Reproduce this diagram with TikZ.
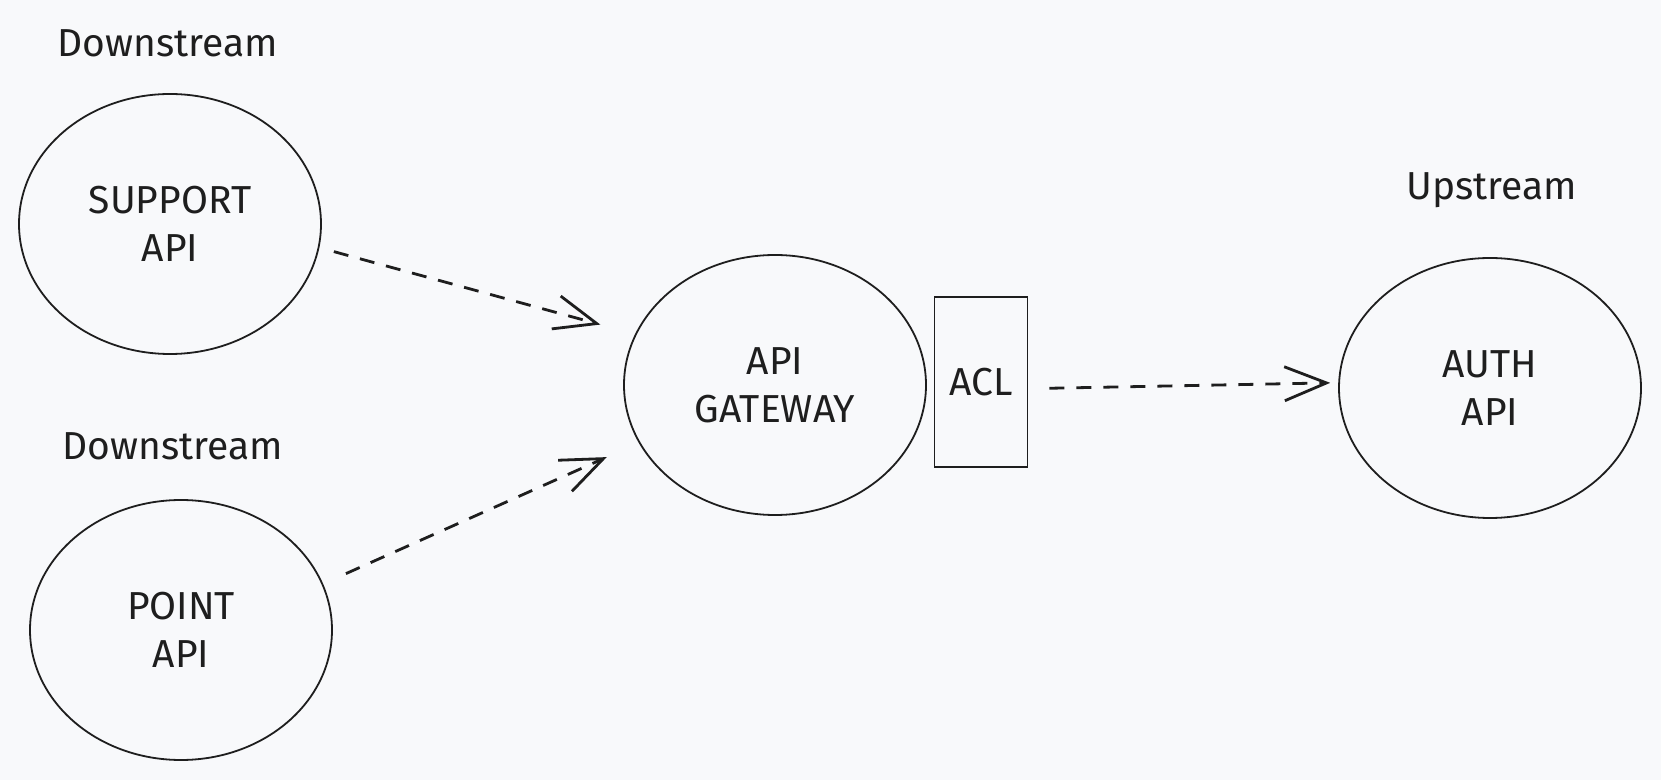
\documentclass[tikz,border=0pt]{standalone}
\usepackage{fontspec}
\setmainfont{Fira Sans}
\usepackage{tikz}
\usetikzlibrary{shapes.geometric,arrows.meta}

\definecolor{bgcol}{RGB}{248,249,251}
\definecolor{inkcol}{RGB}{30,30,30}

\tikzset{
    service/.style={draw=inkcol, line width=0.9pt, ellipse, minimum width=151pt,
        minimum height=130pt, inner sep=0pt, align=center, text=inkcol,
        font=\fontsize{19.5}{24}\selectfont},
    aclbox/.style={draw=inkcol, line width=0.9pt, rectangle, minimum width=46.5pt,
        minimum height=85pt, inner sep=0pt, text=inkcol,
        font=\fontsize{19.5}{24}\selectfont},
    tag/.style={text=inkcol, font=\fontsize{19.5}{24}\selectfont},
    flow/.style={draw=inkcol, line width=1.4pt, dash pattern=on 7.5pt off 6pt,
        -{Straight Barb[length=21pt, width=17pt, line width=1.4pt]}}
}

\begin{document}
\begin{tikzpicture}[x=0.5pt, y=-0.5pt]
        % Background
        \fill[bgcol] (0,0) rectangle (1661,780);
        \useasboundingbox (0,0) rectangle (1661,780);
        % Services
        \node[service] (support) at (170,224) {SUPPORT\\API};
        \node[service] (point) at (181,630) {POINT\\API};
        \node[service] (gateway) at (775,385) {API\\GATEWAY};
        \node[aclbox] (acl) at (981,382) {ACL};
        \node[service] (auth) at (1490,388) {AUTH\\API};
        % Labels
        \node[tag] (downA) at (168,43) {Downstream};
        \node[tag] (downB) at (173,446) {Downstream};
        \node[tag] (up) at (1492,190) {Upstream};
        % Calls
        \draw[flow, shorten <=7.5pt, shorten >=18pt] (support.-9) -- (gateway.160);
        \draw[flow, shorten <=12.5pt, shorten >=17.5pt] (point.18) -- (gateway.203);
        \draw[flow, shorten <=10.5pt, shorten >=4pt] (acl.-8) -- (auth.178);
    \end{tikzpicture}
\end{document}
